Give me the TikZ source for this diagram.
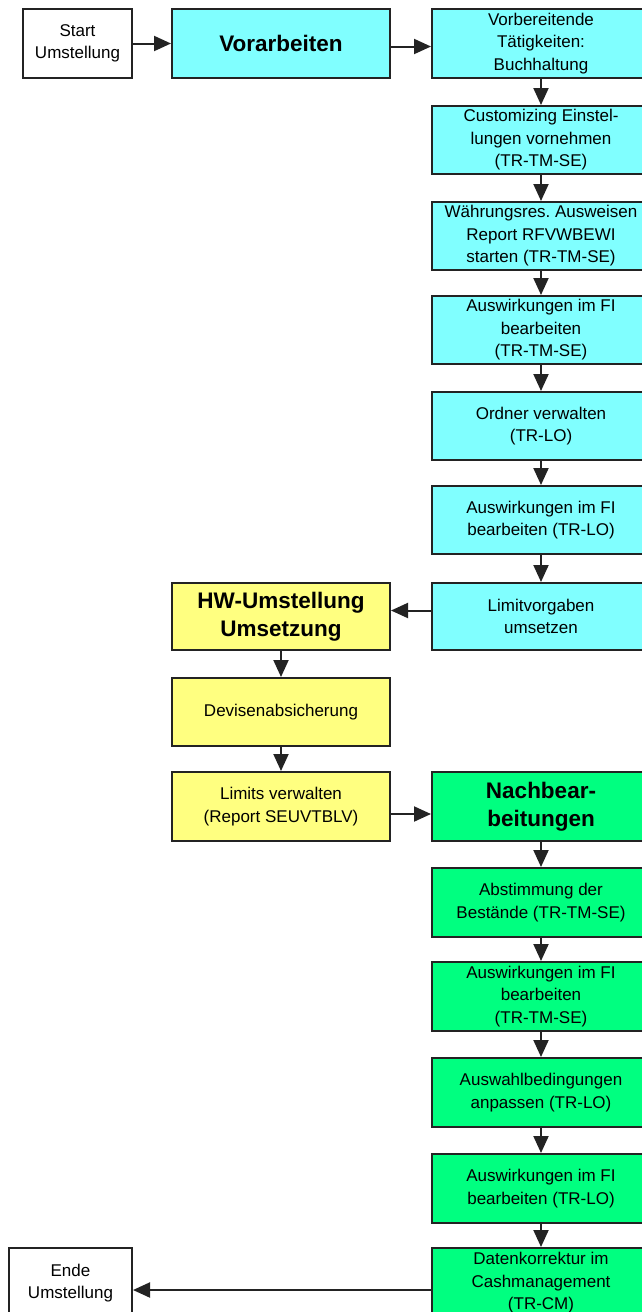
\documentclass[tikz,border=0pt]{standalone}
\usepackage{fontspec}
\setmainfont{Liberation Sans}
\usetikzlibrary{arrows.meta}
\definecolor{cy}{RGB}{128,255,255}
\definecolor{ye}{RGB}{255,255,128}
\definecolor{gr}{RGB}{0,255,128}
\definecolor{bd}{RGB}{35,35,35}
\begin{document}
\begin{tikzpicture}[x=1pt,y=-1pt,
  box/.style={draw=bd,line width=2pt,minimum width=218pt,minimum height=68pt,
    inner sep=0pt,align=center,font=\fontsize{17}{22.5}\selectfont},
  bbox/.style={box,font=\fontsize{22.5}{28}\selectfont\bfseries},
  cybox/.style={box,fill=cy},
  yebox/.style={box,fill=ye},
  grbox/.style={box,fill=gr},
  arr/.style={draw=bd,line width=2pt,-{Triangle[length=17pt,width=15pt]}}]
\fill[white] (0,0) rectangle (642,1312);
\useasboundingbox (0,0) rectangle (642,1312);
\clip (0,0) rectangle (642,1312);

% start / end
\node[box,fill=white,minimum width=109pt,minimum height=69pt] (start) at (77.5,43.5) {Start\\Umstellung};
\node[box,fill=white,minimum width=123pt,minimum height=70pt] (ende) at (70.5,1283) {Ende\\Umstellung};

% cyan column
\node[bbox,fill=cy,minimum height=69pt] (vor) at (281,43.5) {Vorarbeiten};
\node[cybox,minimum height=69pt] (c1) at (541,43.5) {Vorbereitende\\Tätigkeiten:\\Buchhaltung};
\node[cybox] (c2) at (541,140) {Customizing Einstel-\\lungen vornehmen\\(TR-TM-SE)};
\node[cybox] (c3) at (541,236) {Währungsres.\ Ausweisen\\Report RFVWBEWI\\starten (TR-TM-SE)};
\node[cybox] (c4) at (541,330) {Auswirkungen im FI\\bearbeiten\\(TR-TM-SE)};
\node[cybox] (c5) at (541,426) {Ordner verwalten\\(TR-LO)};
\node[cybox] (c6) at (541,520) {Auswirkungen im FI\\bearbeiten (TR-LO)};
\node[cybox,minimum height=67pt] (c7) at (541,616.5) {Limitvorgaben\\umsetzen};

% yellow column
\node[bbox,fill=ye,minimum height=67pt] (hw) at (281,616.5) {HW-Umstellung\\Umsetzung};
\node[yebox] (dev) at (281,712) {Devisenabsicherung};
\node[yebox,minimum height=69pt] (lim) at (281,806.5) {Limits verwalten\\(Report SEUVTBLV)};

% green column
\node[bbox,fill=gr,minimum height=69pt] (nb) at (541,806.5) {Nachbear-\\beitungen};
\node[grbox,minimum height=69pt] (g1) at (541,902.5) {Abstimmung der\\Bestände (TR-TM-SE)};
\node[grbox,minimum height=69pt] (g2) at (541,996.5) {Auswirkungen im FI\\bearbeiten\\(TR-TM-SE)};
\node[grbox,minimum height=69pt] (g3) at (541,1092.5) {Auswahlbedingungen\\anpassen (TR-LO)};
\node[grbox,minimum height=69pt] (g4) at (541,1188.5) {Auswirkungen im FI\\bearbeiten (TR-LO)};
\node[grbox,minimum height=70pt] (g5) at (541,1283) {Datenkorrektur im\\Cashmanagement\\(TR-CM)};

% connectors
\draw[arr] (start) -- (vor);
\draw[arr] ([yshift=-3pt]vor.east) -- ([yshift=-3pt]c1.west);
\draw[arr] (c1) -- (c2);
\draw[arr] (c2) -- (c3);
\draw[arr] (c3) -- (c4);
\draw[arr] (c4) -- (c5);
\draw[arr] (c5) -- (c6);
\draw[arr] (c6) -- (c7);
\draw[arr] ([yshift=6pt]c7.west) -- ([yshift=6pt]hw.east);
\draw[arr] (hw) -- (dev);
\draw[arr] (dev) -- (lim);
\draw[arr] ([yshift=-7.5pt]lim.east) -- ([yshift=-7.5pt]nb.west);
\draw[arr] (nb) -- (g1);
\draw[arr] (g1) -- (g2);
\draw[arr] (g2) -- (g3);
\draw[arr] (g3) -- (g4);
\draw[arr] (g4) -- (g5);
\draw[arr] ([yshift=-7pt]g5.west) -- ([yshift=-7pt]ende.east);
\end{tikzpicture}
\end{document}
